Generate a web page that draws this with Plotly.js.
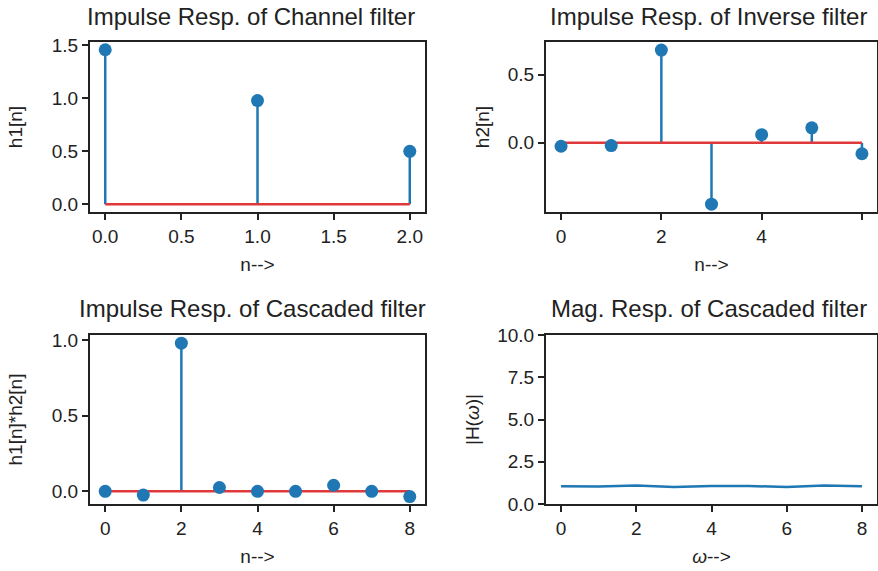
<!DOCTYPE html>
<html>
<head>
<meta charset="utf-8">
<script src="https://cdn.plot.ly/plotly-3.0.1.min.js"></script>
<style>html,body{margin:0;padding:0;background:#fff;}#chart{width:878px;height:571px;}</style>
</head>
<body>
<div id="chart"></div>
<script>
// ---- data ----
const n1 = [0, 1, 2];
const h1 = [1.46, 0.98, 0.5];
const n2 = [0, 1, 2, 3, 4, 5, 6];
const h2 = [-0.025, -0.02, 0.68, -0.45, 0.06, 0.11, -0.08];
const n3 = [0, 1, 2, 3, 4, 5, 6, 7, 8];
const h3 = [0.0, -0.025, 0.98, 0.025, 0.0, 0.0, 0.04, 0.0, -0.035];
const w = [0, 1, 2, 3, 4, 5, 6, 7, 8];
const magH = [1.05, 1.03, 1.1, 1.0, 1.07, 1.07, 1.0, 1.1, 1.05];

const titles = ["Impulse Resp. of Channel filter", "Impulse Resp. of Inverse filter",
                "Impulse Resp. of Cascaded filter", "Mag. Resp. of Cascaded filter"];
const yLabels = ["h1[n]", "h2[n]", "h1[n]*h2[n]", "|H(<i>ω</i>)|"];
const xLabels = ["n-->", "n-->", "n-->", "<i>ω</i>-->"];

const BLUE = "#1f77b4", RED = "#e0393b";
const FONT = "Liberation Sans, Arial, Helvetica, sans-serif";

function stem(x, y, xa, ya) {
  const sx = [], sy = [];
  x.forEach((v, i) => { sx.push(v, v, null); sy.push(0, y[i], null); });
  return [
    {x: sx, y: sy, xaxis: xa, yaxis: ya, mode: "lines", type: "scatter",
     line: {color: BLUE, width: 2.5}, hoverinfo: "skip"},
    {x: [x[0], x[x.length - 1]], y: [0, 0], xaxis: xa, yaxis: ya, mode: "lines", type: "scatter",
     line: {color: RED, width: 2.5}, hoverinfo: "skip"},
    {x: x, y: y, xaxis: xa, yaxis: ya, mode: "markers", type: "scatter",
     marker: {color: BLUE, size: 13}}
  ];
}

const traces = [].concat(
  stem(n1, h1, "x", "y"),
  stem(n2, h2, "x2", "y2"),
  stem(n3, h3, "x3", "y3"),
  [{x: w, y: magH, xaxis: "x4", yaxis: "y4", mode: "lines", type: "scatter",
    line: {color: BLUE, width: 2.5}}]
);

const W = 878, H = 571;
const colL = [90 / W, 425 / W], colR = [546 / W, 877 / W];
const rowT = [1 - 212 / H, 1 - 42 / H], rowB = [1 - 504 / H, 1 - 335 / H];

function xax(domain, range, tickvals, ticktext, label, anchor) {
  return {domain: domain, range: range, tickvals: tickvals, ticktext: ticktext,
    showline: true, mirror: true, linecolor: "#222", linewidth: 2,
    ticks: "outside", ticklen: 6, tickwidth: 2, tickcolor: "#222",
    showgrid: false, zeroline: false, anchor: anchor,
    tickfont: {size: 19, color: "#222", family: FONT},
    title: {text: label, font: {size: 19, color: "#222", family: FONT}, standoff: 12}};
}
function yax(domain, range, tickvals, ticktext, label, anchor, standoff) {
  return {domain: domain, range: range, tickvals: tickvals, ticktext: ticktext,
    showline: true, mirror: true, linecolor: "#222", linewidth: 2,
    ticks: "outside", ticklen: 6, tickwidth: 2, tickcolor: "#222",
    showgrid: false, zeroline: false, anchor: anchor,
    tickfont: {size: 19, color: "#222", family: FONT},
    title: {text: label, font: {size: 19, color: "#222", family: FONT}, standoff: standoff}};
}

const layout = {
  width: W, height: H,
  margin: {l: 0, r: 0, t: 0, b: 0},
  paper_bgcolor: "#fff", plot_bgcolor: "#fff",
  showlegend: false,
  font: {family: FONT, color: "#222"},
  xaxis: xax(colL, [-0.1, 2.1], [0, 0.5, 1, 1.5, 2], ["0.0", "0.5", "1.0", "1.5", "2.0"], xLabels[0], "y"),
  yaxis: yax(rowT, [-0.073, 1.533], [0, 0.5, 1, 1.5], ["0.0", "0.5", "1.0", "1.5"], yLabels[0], "x", 24),
  xaxis2: xax(colR, [-0.3, 6.3], [0, 2, 4, 6], ["0", "2", "4", ""], xLabels[1], "y2"),
  yaxis2: yax(rowT, [-0.507, 0.739], [0, 0.5], ["0.0", "0.5"], yLabels[1], "x2", 13),
  xaxis3: xax(colL, [-0.4, 8.4], [0, 2, 4, 6, 8], ["0", "2", "4", "6", "8"], xLabels[2], "y3"),
  yaxis3: yax(rowB, [-0.084, 1.034], [0, 0.5, 1], ["0.0", "0.5", "1.0"], yLabels[2], "x3", 24),
  xaxis4: xax(colR, [-0.4, 8.4], [0, 2, 4, 6, 8], ["0", "2", "4", "6", "8"], xLabels[3], "y4"),
  yaxis4: yax(rowB, [0, 10], [0, 2.5, 5, 7.5, 10], ["0.0", "2.5", "5.0", "7.5", "10.0"], yLabels[3], "x4", 13),
  annotations: [
    {text: titles[0], x: 251 / W, y: 1 - 17 / H},
    {text: titles[1], x: 708 / W, y: 1 - 17 / H},
    {text: titles[2], x: 252 / W, y: 1 - 308 / H},
    {text: titles[3], x: 709 / W, y: 1 - 308 / H}
  ].map(a => Object.assign(a, {xref: "paper", yref: "paper", xanchor: "center", yanchor: "middle",
      showarrow: false, font: {size: 24, color: "#222", family: FONT}}))
};

Plotly.newPlot("chart", traces, layout, {staticPlot: true, displayModeBar: false});
</script>
</body>
</html>
